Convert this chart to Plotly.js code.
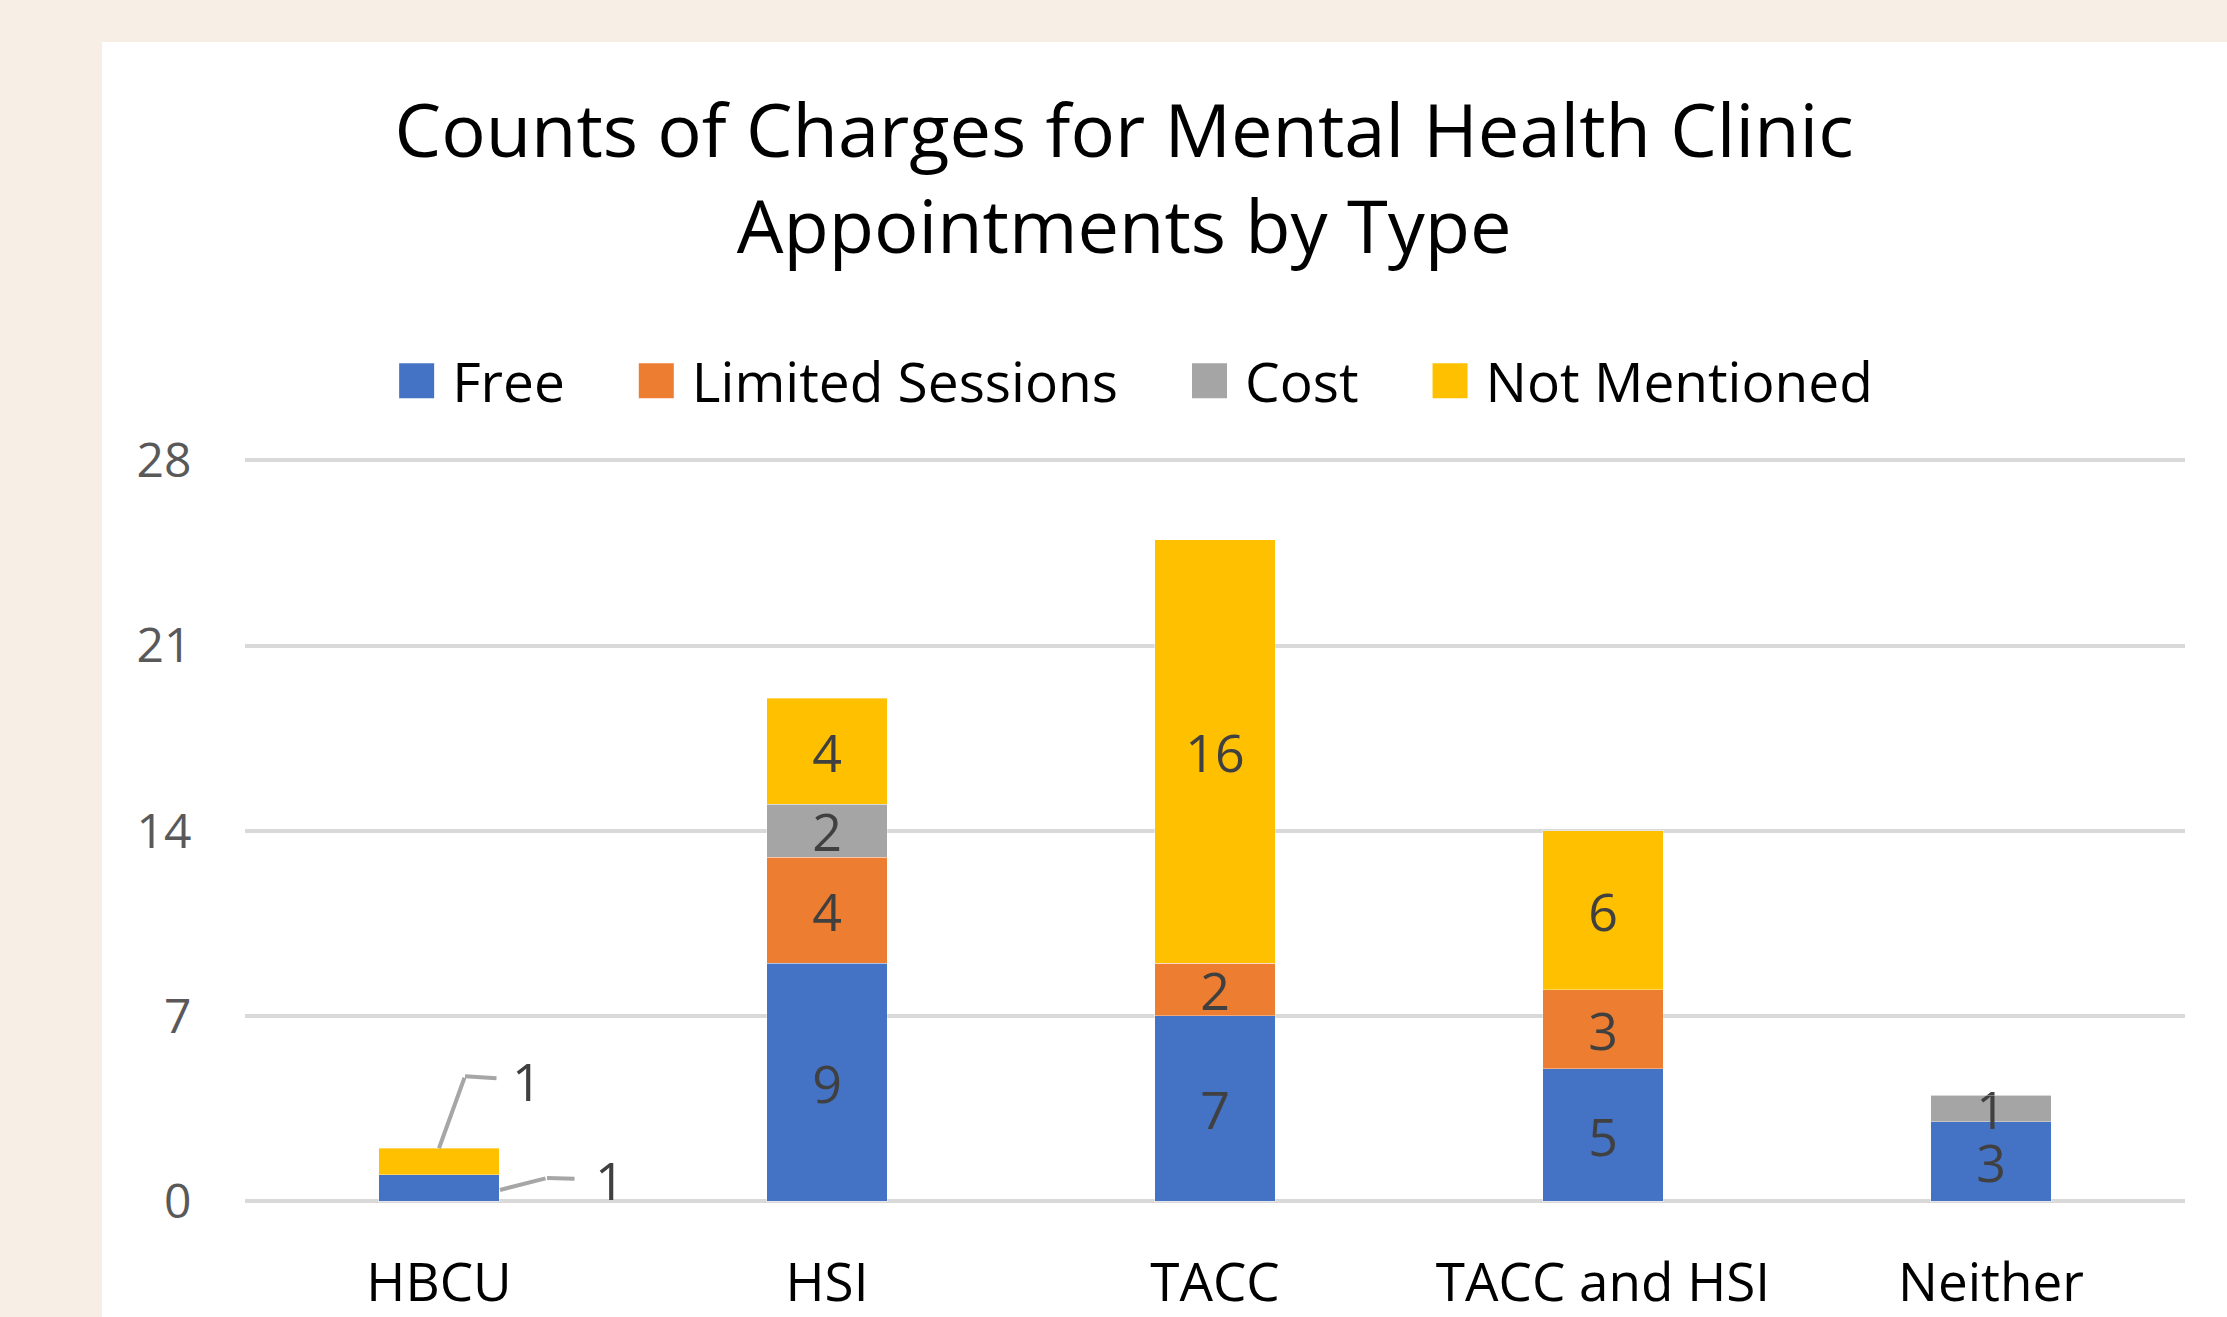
<!DOCTYPE html>
<html>
<head>
<meta charset="utf-8">
<script src="https://cdn.plot.ly/plotly-3.0.1.min.js"></script>
<style>
  html, body { margin: 0; padding: 0; background: #f7eee5; width: 2227px; height: 1317px; overflow: hidden; }
  #chart { position: absolute; left: 102px; top: 42px; width: 2125px; height: 1275px; background: #ffffff; }
</style>
</head>
<body>
<div id="chart"></div>
<script>
const categories = ["HBCU", "HSI", "TACC", "TACC and HSI", "Neither"];
const freeVals = [1, 9, 7, 5, 3];
const limitedVals = [0, 4, 2, 3, 0];
const costVals = [0, 2, 0, 0, 1];
const notMentionedVals = [1, 4, 16, 6, 0];
const seriesNames = ["Free", "Limited Sessions", "Cost", "Not Mentioned"];
const seriesColors = ["#4472C4", "#ED7D31", "#A5A5A5", "#FFC000"];
const yTicks = [0, 7, 14, 21, 28];

const allSeries = [freeVals, limitedVals, costVals, notMentionedVals];
const FONT = "Open Sans, sans-serif";
const LABEL_FONT = { family: FONT, size: 52, color: "#404040" };
const LEADER = "#a6a6a6";

// HBCU labels are drawn outside with leader lines, so blank them inside
function labels(vals) {
  return vals.map((v, i) => (v > 0 && categories[i] !== "HBCU") ? String(v) : "");
}

const traces = allSeries.map((vals, k) => ({
  type: "bar",
  name: seriesNames[k],
  x: categories,
  y: vals,
  text: labels(vals),
  textposition: "inside",
  insidetextanchor: "middle",
  constraintext: "none",
  textangle: 0,
  textfont: LABEL_FONT,
  marker: { color: seriesColors[k], line: { color: "rgba(255,255,255,0.35)", width: 1 } },
  hoverinfo: "skip"
}));

const hb = 0;
const hbTotal = freeVals[hb] + limitedVals[hb] + costVals[hb] + notMentionedVals[hb];
const annotations = [
  // Not Mentioned: diagonal leader from bar top to elbow
  { x: categories[hb], y: hbTotal, xref: "x", yref: "y", text: "",
    showarrow: true, arrowhead: 0, arrowwidth: 4, arrowcolor: LEADER,
    ax: 26, ay: -72, standoff: 0 },
  // Not Mentioned: horizontal leader + label
  { x: categories[hb], y: hbTotal, xref: "x", yref: "y", xshift: 26, yshift: 72,
    text: String(notMentionedVals[hb]),
    showarrow: true, arrowhead: 0, arrowwidth: 4, arrowcolor: LEADER,
    ax: 62, ay: 4, standoff: 0, startstandoff: 14,
    font: LABEL_FONT },
  // Free: diagonal leader from bar edge to elbow
  { x: categories[hb], y: freeVals[hb] / 2, xref: "x", yref: "y", xshift: 61, yshift: -2,
    text: "",
    showarrow: true, arrowhead: 0, arrowwidth: 4, arrowcolor: LEADER,
    ax: 47, ay: -12, standoff: 0 },
  // Free: horizontal leader + label
  { x: categories[hb], y: freeVals[hb] / 2, xref: "x", yref: "y", xshift: 108, yshift: 10,
    text: String(freeVals[hb]),
    showarrow: true, arrowhead: 0, arrowwidth: 4, arrowcolor: LEADER,
    ax: 63, ay: 2, standoff: 0, startstandoff: 19,
    font: LABEL_FONT }
];

const layout = {
  width: 2125,
  height: 1275,
  paper_bgcolor: "#ffffff",
  plot_bgcolor: "#ffffff",
  barmode: "stack",
  bargap: 0.69,
  margin: { l: 143, r: 42, t: 417, b: 115, pad: 0 },
  font: { family: FONT, color: "#404040" },
  title: {
    text: "Counts of Charges for Mental Health Clinic<br>Appointments by Type",
    font: { family: FONT, size: 74, color: "#000000" },
    x: 0.481, xanchor: "center",
    y: 0.91, yanchor: "middle"
  },
  showlegend: true,
  legend: {
    orientation: "h",
    x: 0.4866, xanchor: "center",
    y: 1.105, yanchor: "middle",
    font: { family: FONT, size: 55, color: "#000000" },
    traceorder: "normal",
    bgcolor: "rgba(0,0,0,0)"
  },
  xaxis: {
    type: "category",
    showgrid: false,
    showline: false,
    zeroline: false,
    ticks: "outside", ticklen: 34, tickcolor: "rgba(0,0,0,0)",
    tickfont: { family: FONT, size: 53, color: "#000000" },
    fixedrange: true
  },
  yaxis: {
    range: [-0.03, 28.05],
    tickvals: yTicks,
    ticktext: yTicks.map(String),
    showgrid: true,
    gridcolor: "#d9d9d9",
    gridwidth: 4,
    zeroline: true,
    zerolinecolor: "#d9d9d9",
    zerolinewidth: 4,
    showline: false,
    ticks: "outside", ticklen: 43, tickcolor: "rgba(0,0,0,0)",
    tickfont: { family: FONT, size: 48, color: "#595959" },
    fixedrange: true
  },
  annotations: annotations
};

function fixLegend() {
  const gd = document.getElementById("chart");
  const leg = gd.querySelector("g.legend");
  if (!leg) return;
  leg.removeAttribute("clip-path");
  leg.querySelectorAll("[clip-path]").forEach(n => n.removeAttribute("clip-path"));
  const SQ = 35, TEXTX = 53, GAP = 74;
  const items = Array.from(leg.querySelectorAll("g.traces"));
  let cursor = 0;
  items.forEach(it => {
    const m = /translate\(\s*([-\d.e]+)[ ,]+([-\d.e]+)\s*\)/.exec(it.getAttribute("transform") || "");
    const ty = m ? parseFloat(m[2]) : 0;
    it.setAttribute("transform", "translate(" + cursor + "," + ty + ")");
    const path = it.querySelector(".legendpoints path");
    if (path) {
      const M = it.getCTM().inverse().multiply(path.parentNode.getCTM());
      const s = SQ / 12;
      path.setAttribute("transform", "translate(" + (SQ / 2 - M.e) + ",0) scale(" + s + ")");
      path.style.strokeWidth = "0";
    }
    const t = it.querySelector("text.legendtext");
    let w = 0;
    if (t) {
      t.setAttribute("x", TEXTX);
      t.querySelectorAll("tspan[x]").forEach(ts => ts.setAttribute("x", TEXTX));
      w = t.getComputedTextLength();
    }
    cursor += TEXTX + w + GAP;
  });
  // center legend on target
  const first = items[0].getBoundingClientRect();
  const lastText = items[items.length - 1].querySelector("text.legendtext").getBoundingClientRect();
  const curCenter = (first.left + lastText.right) / 2;
  const target = 1136;
  const m = /translate\(\s*([-\d.e]+)[ ,]+([-\d.e]+)\s*\)/.exec(leg.getAttribute("transform") || "");
  if (m) {
    const lx = parseFloat(m[1]) + (target - curCenter);
    leg.setAttribute("transform", "translate(" + lx + "," + m[2] + ")");
  }
}

Plotly.newPlot("chart", traces, layout, { displayModeBar: false, staticPlot: true }).then(fixLegend);
</script>
</body>
</html>
